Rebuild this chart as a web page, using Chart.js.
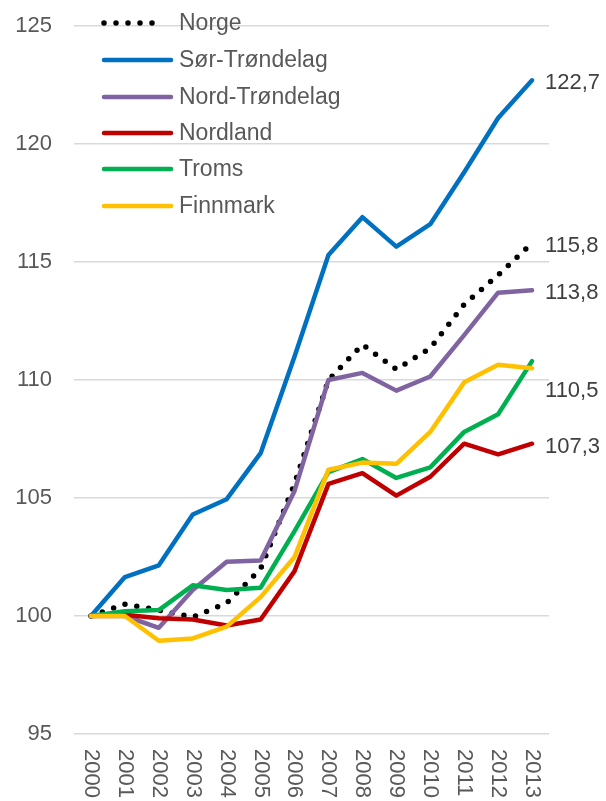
<!DOCTYPE html>
<html>
<head>
<meta charset="utf-8">
<script src="https://cdn.jsdelivr.net/npm/chart.js@4.4.1/dist/chart.umd.min.js"></script>
<style>
  html, body { margin: 0; padding: 0; background: #ffffff; }
  #wrap { width: 606px; height: 801px; }
</style>
</head>
<body>
<div id="wrap"><canvas id="c" width="606" height="801"></canvas></div>
<script>
// ---- Data ----
const years = ['2000','2001','2002','2003','2004','2005','2006','2007','2008','2009','2010','2011','2012','2013'];
const yTicks = [95, 100, 105, 110, 115, 120, 125];
const seriesNames = ['Norge','Sør-Trøndelag','Nord-Trøndelag','Nordland','Troms','Finnmark'];
const norge         = [100, 100.5, 100.25, 99.95, 100.55, 102.0, 105.6, 110.0, 111.5, 110.45, 111.35, 113.2, 114.45, 115.8];
const sorTrondelag  = [100, 101.65, 102.15, 104.3, 104.95, 106.9, 111.0, 115.3, 116.9, 115.65, 116.6, 118.8, 121.1, 122.7];
const nordTrondelag = [100, 100.0, 99.5, 101.1, 102.3, 102.35, 105.3, 110.0, 110.3, 109.55, 110.15, 111.9, 113.7, 113.8];
const nordland      = [100, 100.05, 99.9, 99.85, 99.6, 99.85, 101.9, 105.6, 106.05, 105.1, 105.9, 107.3, 106.85, 107.3];
const troms         = [100, 100.2, 100.25, 101.3, 101.1, 101.2, 103.6, 106.1, 106.65, 105.85, 106.3, 107.8, 108.55, 110.8];
const finnmark      = [100, 100.0, 98.95, 99.05, 99.55, 100.8, 102.5, 106.2, 106.5, 106.45, 107.8, 109.9, 110.65, 110.5];
const endLabelShown = [true, true, true, true, false, true];

// ---- Styles ----
const FONT = '"Liberation Sans", Arial, sans-serif';
const colors = ['#000000', '#0070C0', '#8064A2', '#C00000', '#00B050', '#FFC000'];
const endLabelDy = [0, 0, 0, 0, 0, 20];

const seriesData = [norge, sorTrondelag, nordTrondelag, nordland, troms, finnmark];

const datasets = seriesData.map((d, i) => ({
  label: seriesNames[i],
  data: d,
  borderColor: colors[i],
  backgroundColor: colors[i],
  borderWidth: i === 0 ? 5.5 : 4.5,
  borderDash: i === 0 ? [0, 12] : [],
  borderCapStyle: 'round',
  borderJoinStyle: 'round',
  pointRadius: 0,
  pointHoverRadius: 0,
  tension: 0,
  fill: false,
  order: seriesData.length - i
}));

const overlay = {
  id: 'overlay',
  afterDraw(chart) {
    const ctx = chart.ctx;
    const xs = chart.scales.x;
    // x labels rotated clockwise
    ctx.save();
    ctx.fillStyle = '#595959';
    ctx.font = '22px ' + FONT;
    ctx.textAlign = 'left';
    ctx.textBaseline = 'middle';
    years.forEach((y, i) => {
      const px = xs.getPixelForValue(i);
      ctx.save();
      ctx.translate(px, 749);
      ctx.rotate(Math.PI / 2);
      ctx.fillText(y, 0, 0);
      ctx.restore();
    });
    ctx.restore();

    // end labels
    ctx.save();
    ctx.fillStyle = '#404040';
    ctx.font = '22px ' + FONT;
    ctx.textAlign = 'left';
    ctx.textBaseline = 'middle';
    chart.data.datasets.forEach((ds, i) => {
      if (!endLabelShown[i]) return;
      const meta = chart.getDatasetMeta(i);
      const pt = meta.data[meta.data.length - 1];
      const v = ds.data[ds.data.length - 1];
      ctx.fillText(v.toFixed(1).replace('.', ','), pt.x + 13, pt.y + 3 + endLabelDy[i]);
    });
    ctx.restore();

    // legend
    ctx.save();
    ctx.font = '23px ' + FONT;
    ctx.textBaseline = 'middle';
    ctx.textAlign = 'left';
    const rowsY = [23, 60, 97, 133, 169, 206];
    chart.data.datasets.forEach((ds, i) => {
      const y = rowsY[i];
      ctx.beginPath();
      ctx.strokeStyle = ds.borderColor;
      ctx.lineWidth = ds.borderWidth;
      ctx.lineCap = 'round';
      ctx.setLineDash(ds.borderDash);
      if (i === 0) {
        ctx.moveTo(104, y); ctx.lineTo(164, y);
      } else {
        ctx.moveTo(104, y); ctx.lineTo(171, y);
      }
      ctx.stroke();
      ctx.setLineDash([]);
      ctx.fillStyle = '#595959';
      ctx.fillText(ds.label, 179, y + 1);
    });
    ctx.restore();
  }
};

new Chart(document.getElementById('c'), {
  type: 'line',
  data: { labels: years, datasets: datasets },
  options: {
    responsive: false,
    devicePixelRatio: 1,
    animation: false,
    layout: { padding: { top: 26, right: 57, bottom: 67, left: 0 } },
    plugins: { legend: { display: false }, tooltip: { enabled: false } },
    scales: {
      x: {
        type: 'category',
        offset: true,
        grid: { display: false, drawTicks: false },
        border: { display: false },
        ticks: { display: false },
        afterFit(scale) { scale.height = 0; scale.paddingLeft = 0; scale.paddingRight = 0; }
      },
      y: {
        min: 95, max: 125,
        afterBuildTicks(scale) { scale.ticks = yTicks.map(v => ({ value: v })); },
        grid: { color: '#d9d9d9', lineWidth: 1.5, drawTicks: false },
        border: { display: false },
        ticks: { color: '#595959', font: { family: FONT, size: 22 }, padding: 22 },
        afterFit(scale) { scale.width = 74; scale.paddingTop = 0; scale.paddingBottom = 0; }
      }
    }
  },
  plugins: [overlay]
});
</script>
</body>
</html>
